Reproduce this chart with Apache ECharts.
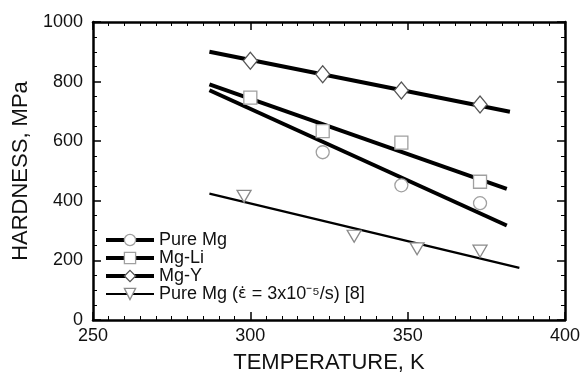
<!DOCTYPE html>
<html>
<head>
<meta charset="utf-8">
<script src="https://cdn.jsdelivr.net/npm/echarts@6/dist/echarts.min.js"></script>
<style>
  html, body { margin: 0; padding: 0; background: #fff; }
  #main { width: 583px; height: 381px; }
</style>
</head>
<body>
<div id="main"></div>
<script>
"use strict";
// measured points (K, MPa)
var pureMgPts = [[323, 563], [348, 452], [373, 392]];
var mgLiPts = [[300, 746], [323, 634], [348, 595], [373, 464]];
var mgYPts = [[300, 870], [323, 825], [348, 770], [373, 723]];
var refPts = [[298, 415], [333, 281], [353, 239], [373, 231]];
// fit lines (end points)
var pureMgFit = [[287, 771], [381.5, 317]];
var mgLiFit = [[287, 791], [381.5, 440]];
var mgYFit = [[287, 900], [382.5, 699]];
var refFit = [[287, 424], [385.5, 175]];

var names = ['Pure Mg', 'Mg-Li', 'Mg-Y', 'Pure Mg (ε̇ = 3x10⁻⁵/s) [8]'];
var symbols = ['circle', 'rect', 'diamond', 'triangle'];
var markColors = ['#a0a0a0', '#a0a0a0', '#555555', '#8a8a8a'];
var fits = [pureMgFit, mgLiFit, mgYFit, refFit];
var points = [pureMgPts, mgLiPts, mgYPts, refPts];
var lineWidths = [4, 4, 4, 2.2];

var font = 'Liberation Sans, Arial, Helvetica, sans-serif';

var series = [];
var legendData = [];
for (var i = 0; i < 4; i++) {
    var sym = symbols[i];
    var rot = sym === 'triangle' ? 180 : 0;
    var size = sym === 'diamond' ? [14, 17] : (sym === 'triangle' ? [14, 12] : 13);
    series.push({
        name: names[i],
        type: 'line',
        data: fits[i],
        symbol: sym,
        symbolSize: size,
        symbolRotate: rot,
        showSymbol: false,
        lineStyle: {color: '#000', width: lineWidths[i]},
        itemStyle: {color: '#fff', borderColor: markColors[i], borderWidth: 1.3},
        z: 2,
        silent: true
    });
    series.push({
        name: names[i],
        type: 'scatter',
        data: points[i],
        symbol: sym,
        symbolSize: size,
        symbolRotate: rot,
        itemStyle: {color: '#fff', borderColor: markColors[i], borderWidth: 1.3, opacity: 1},
        z: 3,
        silent: true
    });
    legendData.push({
        name: names[i],
        lineStyle: {color: '#000', width: lineWidths[i]},
        itemStyle: {color: '#fff', borderColor: markColors[i], borderWidth: 1.3}
    });
}

var chart = echarts.init(document.getElementById('main'));
chart.setOption({
    animation: false,
    backgroundColor: '#fff',
    grid: {left: 93, right: 15, top: 22, bottom: 61},
    legend: {
        data: legendData,
        orient: 'vertical',
        left: 99,
        top: 226,
        itemWidth: 48,
        itemHeight: 14,
        itemGap: 0,
        selectedMode: false,
        formatter: function (name) {
            if (name === names[3]) {
                return 'Pure Mg ({e|ε̇} = 3x10⁻⁵/s) [8]';
            }
            return name;
        },
        textStyle: {
            fontFamily: font, fontSize: 18, color: '#111', lineHeight: 14,
            rich: {
                e: {fontFamily: 'DejaVu Sans', fontSize: 16, color: '#111', lineHeight: 14}
            }
        }
    },
    xAxis: [{
        type: 'value',
        min: 250, max: 400, interval: 50,
        name: 'TEMPERATURE, K',
        nameLocation: 'middle',
        nameGap: 32,
        nameTextStyle: {fontFamily: font, fontSize: 22, color: '#111'},
        axisLine: {onZero: false, lineStyle: {color: '#000', width: 2.5}},
        axisTick: {inside: true, length: 8, lineStyle: {color: '#000', width: 1.5}},
        minorTick: {show: true, splitNumber: 10, length: 4, lineStyle: {color: '#000', width: 1}},
        axisLabel: {fontFamily: font, fontSize: 18, color: '#111', margin: 7, formatter: function (v) { return String(v); }},
        splitLine: {show: false}
    }, {
        type: 'value',
        position: 'top',
        min: 250, max: 400, interval: 50,
        axisLine: {onZero: false, lineStyle: {color: '#000', width: 2.5}},
        axisTick: {inside: true, length: 8, lineStyle: {color: '#000', width: 1.5}},
        minorTick: {show: true, splitNumber: 10, length: 4, lineStyle: {color: '#000', width: 1}},
        axisLabel: {show: false},
        splitLine: {show: false}
    }],
    yAxis: [{
        type: 'value',
        min: 0, max: 1000, interval: 200,
        name: 'HARDNESS, MPa',
        nameLocation: 'middle',
        nameGap: 56,
        nameTextStyle: {fontFamily: font, fontSize: 22, color: '#111'},
        axisLine: {onZero: false, lineStyle: {color: '#000', width: 2.5}},
        axisTick: {inside: true, length: 8, lineStyle: {color: '#000', width: 1.5}},
        minorTick: {show: true, splitNumber: 4, length: 4, lineStyle: {color: '#000', width: 1}},
        axisLabel: {fontFamily: font, fontSize: 18, color: '#111', margin: 10, formatter: function (v) { return String(v); }},
        splitLine: {show: false}
    }, {
        type: 'value',
        position: 'right',
        min: 0, max: 1000, interval: 200,
        axisLine: {onZero: false, lineStyle: {color: '#000', width: 2.5}},
        axisTick: {inside: true, length: 8, lineStyle: {color: '#000', width: 1.5}},
        minorTick: {show: true, splitNumber: 4, length: 4, lineStyle: {color: '#000', width: 1}},
        axisLabel: {show: false},
        splitLine: {show: false}
    }],
    series: series
});
</script>
</body>
</html>
